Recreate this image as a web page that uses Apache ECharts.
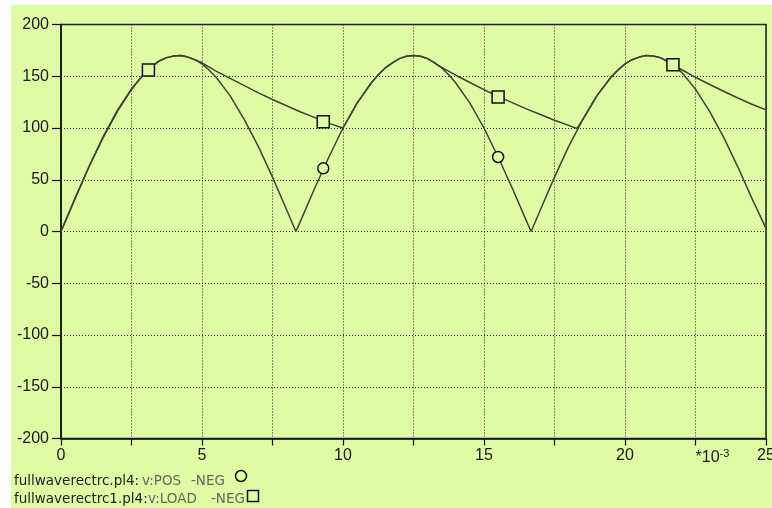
<!DOCTYPE html>
<html>
<head>
<meta charset="utf-8">
<script src="https://cdn.jsdelivr.net/npm/echarts@6/dist/echarts.min.js"></script>
<style>
  html, body { margin: 0; padding: 0; background: #ffffff; overflow: hidden; }
  #chart { position: absolute; left: 11px; top: 5px; width: 761px; height: 503px; background: #ddfca3; }
</style>
</head>
<body>
<div id="chart"></div>
<script>
// ---- data (time in ms, voltage in V) ----
var posTime = [0,0.5,1,1.5,2,2.5,2.75,3,3.25,3.5,3.75,4,4.25,4.5,4.75,5,5.25,5.5,6,6.5,7,7.5,8,8.33,8.5,9,9.5,10,10.5,11,11.25,11.5,11.75,12,12.25,12.5,12.75,13,13.25,13.5,13.75,14,14.5,15,15.5,16,16.5,16.67,17,17.5,18,18.5,19,19.5,19.75,20,20.25,20.5,20.75,21,21.25,21.5,21.75,22,22.25,22.5,23,23.5,24,24.5,25];
var posValues = [0,32,63,91,116,137,146,154,160,165,168,169.5,170,168.5,166,162,156,149,131,108,82,52.5,21,0,10.5,42,72,100,124,143.5,151.5,158,163,167,169.3,170,169.3,167,163,158,151.5,143.5,124,100,72,42,10.5,0,21,52.5,82,108,131,149,156,162,166,168.5,170,169.5,168,164.5,160,154,146,137.5,116,91,62.5,32,3];

var loadTime = [0,0.5,1,1.5,2,2.5,2.75,3,3.25,3.5,3.75,4,4.25,4.5,4.75,5,5.5,6,6.5,7,7.5,8,8.5,9,9.5,10,10.5,11,11.25,11.5,11.75,12,12.25,12.5,12.75,13,13.25,13.4,14,14.5,15,15.5,16,16.5,17,17.5,18,18.3,18.5,19,19.5,19.75,20,20.25,20.5,20.75,21,21.25,21.5,21.7,22,22.5,23,23.5,24,24.5,25];
var loadValues = [0,32,63,92,117,138,146,154,160,165,168,169.5,170,168.5,166,163,155,148,141,134,127.5,121.5,115.5,110,104.5,100,124,143.5,151.5,158,163,167,169.3,170,169.3,167,163,160,151,144,137,130.5,124.5,118.5,113,107.5,102.5,99.5,108,131,149,156,162,166,168.5,170,169.5,168,164.5,161,156.5,149,142,135.5,129,123,117.5];

var markerTime = [3.1, 9.3, 15.5, 21.7];
var posMarkerValues = [156, 61, 72, 161];
var loadMarkerValues = [156, 106, 130, 161];

var xTicks = { min: 0, max: 25, interval: 2.5 };
var yTicks = { min: -200, max: 200, interval: 50 };

var legendNames = ['fullwaverectrc.pl4:', 'fullwaverectrc1.pl4:'];
var legendVars = ['v:POS', 'v:LOAD'];
var legendNeg = '-NEG';

function zip(a, b) { return a.map(function (t, i) { return [t, b[i]]; }); }

var BG = '#ddfca3';
var LINE = '#3e4334';
var INK = '#1a1a1a';

var chart = echarts.init(document.getElementById('chart'), null, { renderer: 'canvas', width: 761, height: 503 });
chart.setOption({
  animation: false,
  backgroundColor: BG,
  grid: { left: 50, top: 19.5, right: 6, bottom: 69.5, outerBoundsMode: 'none', containLabel: false,
          show: true, borderColor: '#222', borderWidth: 1.5, backgroundColor: 'transparent' },
  xAxis: {
    type: 'value', min: xTicks.min, max: xTicks.max, interval: xTicks.interval,
    axisLine: { show: true, onZero: false, lineStyle: { color: '#111', width: 1.5 } },
    axisTick: { show: true, inside: false, length: 7, lineStyle: { color: '#111', width: 1.2 } },
    splitLine: { show: true, lineStyle: { color: '#222', type: [1, 2], width: 1 } },
    axisLabel: {
      show: true, margin: 9, fontFamily: 'Liberation Sans, Arial, sans-serif', fontSize: 16, color: INK,
      showMaxLabel: true, showMinLabel: true, hideOverlap: false,
      formatter: function (v) {
        if (Math.abs(v - 22.5) < 1e-6) return '{p| }{m|*10}{s|-3}';
        if (Math.abs(v % 5) < 1e-6) return String(Math.round(v));
        return '';
      },
      rich: {
        p: { width: 34, fontSize: 16 },
        m: { fontSize: 16, color: INK, fontFamily: 'Liberation Sans, Arial, sans-serif', lineHeight: 20 },
        s: { fontSize: 11, color: INK, fontFamily: 'Liberation Sans, Arial, sans-serif', verticalAlign: 'top', padding: [1, 0, 0, 0] }
      }
    }
  },
  yAxis: {
    type: 'value', min: yTicks.min, max: yTicks.max, interval: yTicks.interval,
    axisLine: { show: true, onZero: false, lineStyle: { color: '#111', width: 1.5 } },
    axisTick: { show: true, inside: false, length: 9, lineStyle: { color: '#111', width: 1.2 } },
    splitLine: { show: true, lineStyle: { color: '#222', type: [1, 2], width: 1 } },
    axisLabel: { show: true, margin: 12, fontFamily: 'Liberation Sans, Arial, sans-serif', fontSize: 16, color: INK }
  },
  series: [
    { type: 'line', data: zip(posTime, posValues), showSymbol: false, symbol: 'none',
      lineStyle: { color: LINE, width: 1.5 }, z: 3 },
    { type: 'line', data: zip(loadTime, loadValues), showSymbol: false, symbol: 'none',
      lineStyle: { color: LINE, width: 1.5 }, z: 3 },
    { type: 'scatter', data: zip(markerTime, posMarkerValues), symbol: 'circle', symbolSize: 11,
      itemStyle: { color: BG, borderColor: '#111', borderWidth: 1.5, opacity: 1 }, z: 4 },
    { type: 'scatter', data: zip(markerTime, loadMarkerValues), symbol: 'rect', symbolSize: 12,
      itemStyle: { color: BG, borderColor: '#111', borderWidth: 1.5, opacity: 1 }, z: 5 }
  ],
  graphic: [
    { type: 'text', left: 3, top: 469, style: { text: legendNames[0], font: '13.5px "DejaVu Sans"', fill: '#222' } },
    { type: 'text', left: 131, top: 469, style: { text: legendVars[0], font: '13.5px "DejaVu Sans"', fill: '#666' } },
    { type: 'text', left: 180, top: 469, style: { text: legendNeg, font: '13.5px "DejaVu Sans"', fill: '#666' } },
    { type: 'circle', shape: { cx: 230, cy: 471, r: 5.5 }, style: { fill: BG, stroke: '#111', lineWidth: 1.5 } },
    { type: 'text', left: 3, top: 487, style: { text: legendNames[1], font: '13.5px "DejaVu Sans"', fill: '#222' } },
    { type: 'text', left: 137, top: 487, style: { text: legendVars[1], font: '13.5px "DejaVu Sans"', fill: '#666' } },
    { type: 'text', left: 200, top: 487, style: { text: legendNeg, font: '13.5px "DejaVu Sans"', fill: '#666' } },
    { type: 'rect', shape: { x: 236.5, y: 485.5, width: 11, height: 11 }, style: { fill: BG, stroke: '#111', lineWidth: 1.5 } }
  ]
});
</script>
</body>
</html>
